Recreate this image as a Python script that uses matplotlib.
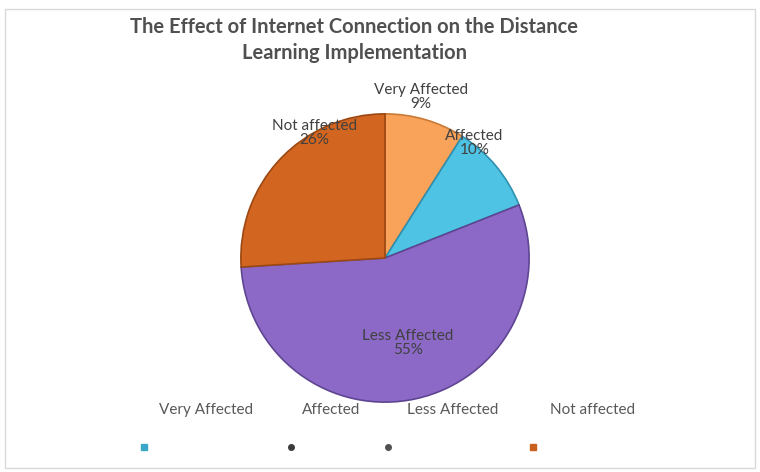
import matplotlib.pyplot as plt
from matplotlib.lines import Line2D
from matplotlib.patches import Rectangle

categories = ['Very Affected', 'Affected', 'Less Affected', 'Not affected']
shares = [9, 10, 55, 26]
colors = ['#F9A259', '#4EC3E4', '#8C69C6', '#D2651F']
edge_colors = ['#C97A35', '#2E8FAE', '#5E4592', '#9C4813']

# label spots inside the pie axes (data units, radius 1)
label_pos = [(0.25, 1.12), (0.62, 0.80), (0.16, -0.59), (-0.49, 0.87)]

fig = plt.figure(figsize=(7.6, 4.72), dpi=100)
fig.patch.set_facecolor('white')
fig.add_artist(Rectangle((0.006, 0.008), 0.988, 0.972, transform=fig.transFigure,
                         fill=False, edgecolor='#D9D9D9', linewidth=1))

cx, cy, r = 385, 258, 147
ax = fig.add_axes([(cx - r) / 760, 1 - (cy + r) / 472, 2 * r / 760, 2 * r / 472])
wedges, _ = ax.pie(shares, colors=colors, startangle=90, counterclock=False,
                   radius=1, wedgeprops=dict(linewidth=1.2))
for w, ec in zip(wedges, edge_colors):
    w.set_edgecolor(ec)
ax.set_xlim(-1.02, 1.02)
ax.set_ylim(-1.02, 1.02)
ax.set_aspect('equal')
ax.axis('off')

for (x, y), name, v in zip(label_pos, categories, shares):
    ax.text(x, y, f'{name}\n{v}%', ha='center', va='center', fontsize=11,
            color='#404040', linespacing=1.0, family='Lato')

fig.text(354 / 760, 1 - 27 / 472, 'The Effect of Internet Connection on the Distance',
         ha='center', va='center', fontsize=14.5, fontweight='bold', color='#505050',
         family='Lato')
fig.text(354 / 760, 1 - 53 / 472, 'Learning Implementation',
         ha='center', va='center', fontsize=14.5, fontweight='bold', color='#505050',
         family='Lato')

# broken legend row: names on top, tiny icons below
legend_text_x = [206, 331, 453, 593]
legend_icon_x = [144, 291, 388, 533]
icon_colors = ['#3AA7C8', '#3A3A3A', '#505050', '#C8601E']
icon_shapes = ['s', 'o', 'o', 's']
for name, tx, ix, ic, mk in zip(categories, legend_text_x, legend_icon_x, icon_colors, icon_shapes):
    fig.text(tx / 760, 1 - 410 / 472, name, ha='center', va='center', fontsize=11,
             color='#595959', family='Lato')
    fig.add_artist(Line2D([ix / 760], [1 - 447 / 472], marker=mk, markersize=5 if mk == 's' else 4,
                          color=ic, transform=fig.transFigure))

fig.savefig('out.png', dpi=100)
